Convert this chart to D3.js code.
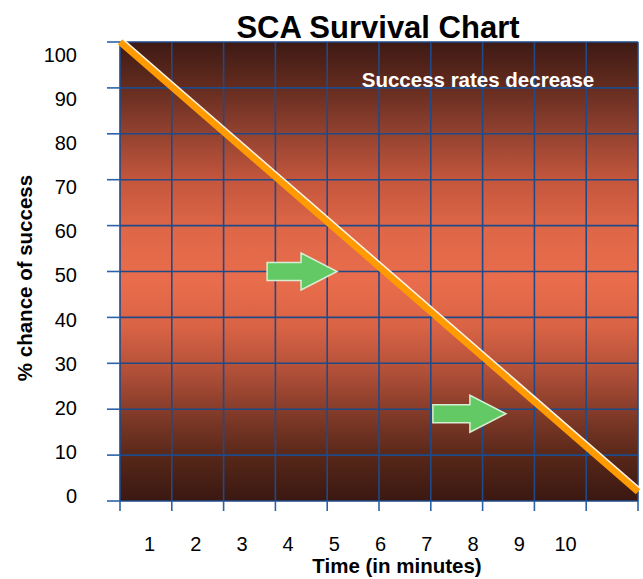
<!DOCTYPE html>
<meta charset="utf-8">
<style>

body {
  margin: 0;
  background: #fff;
}

text {
  font-family: "Liberation Sans", Arial, sans-serif;
  fill: #000;
}

.grid line {
  stroke: #1f4a8a;
  stroke-width: 1.6;
}

.tick-mark {
  stroke: #2c62a8;
  stroke-width: 1.6;
}

.title {
  font: bold 31px "Liberation Sans", Arial, sans-serif;
}

.axis-title {
  font: bold 20.5px "Liberation Sans", Arial, sans-serif;
}

.note {
  font: bold 20.5px "Liberation Sans", Arial, sans-serif;
  fill: #fff;
}

</style>
<svg width="643" height="579"></svg>
<script src="https://d3js.org/d3.v7.min.js"></script>
<script>

// grid positions (minutes) and the labels under the axis
var gridMinutes = [0, 1, 2, 3, 4, 5, 6, 7, 8, 9, 10];
var minuteLabels = [1, 2, 3, 4, 5, 6, 7, 8, 9, 10];
var percentTicks = [0, 10, 20, 30, 40, 50, 60, 70, 80, 90, 100];

// survival line
var lineTime = [0, 10];
var lineChance = [100, 2];

// green arrows (start minute, end minute, level)
var arrowStart = [2.84, 6.04];
var arrowEnd = [4.19, 7.45];
var arrowLevel = [50, 19];

var svg = d3.select("svg"),
    width = +svg.attr("width"),
    height = +svg.attr("height");

var x = d3.scaleLinear().domain([0, 10]).range([120, 638]),
    y = d3.scaleLinear().domain([0, 100]).range([501, 42]);

// the labels are not quite lined up with the grid in the picture
var xLabel = d3.scaleLinear().domain([1, 10]).range([149, 565]),
    yLabel = d3.scaleLinear().domain([0, 100]).range([496, 55]);

// background gradient, dark at top and bottom, light in the middle
var defs = svg.append("defs");
var grad = defs.append("linearGradient")
    .attr("id", "bg")
    .attr("x1", 0).attr("y1", 0)
    .attr("x2", 0).attr("y2", 1);

var stops = [
  [0, "#3d1a14"], [0.1, "#652c1f"], [0.2, "#934230"], [0.3, "#c3563c"],
  [0.4, "#dd6647"], [0.52, "#e96d4c"], [0.62, "#d96345"], [0.72, "#b04f38"],
  [0.82, "#7d3827"], [0.91, "#552618"], [1, "#3a1812"]
];
grad.selectAll("stop")
  .data(stops)
  .enter().append("stop")
    .attr("offset", function(d) { return d[0]; })
    .attr("stop-color", function(d) { return d[1]; });

svg.append("rect")
    .attr("x", x(0))
    .attr("y", y(100))
    .attr("width", x(10) - x(0))
    .attr("height", y(0) - y(100))
    .attr("fill", "url(#bg)");

// grid
var grid = svg.append("g").attr("class", "grid");

grid.selectAll(".v")
  .data(gridMinutes)
  .enter().append("line")
    .attr("class", "v")
    .attr("x1", function(d) { return x(d); })
    .attr("x2", function(d) { return x(d); })
    .attr("y1", y(100))
    .attr("y2", y(0));

grid.selectAll(".h")
  .data(percentTicks)
  .enter().append("line")
    .attr("class", "h")
    .attr("x1", x(0))
    .attr("x2", x(10))
    .attr("y1", function(d) { return y(d); })
    .attr("y2", function(d) { return y(d); });

// small tick marks outside the plot
svg.selectAll(".xtick")
  .data(gridMinutes)
  .enter().append("line")
    .attr("class", "tick-mark")
    .attr("x1", function(d) { return x(d); })
    .attr("x2", function(d) { return x(d); })
    .attr("y1", y(0))
    .attr("y2", y(0) + 10);

svg.selectAll(".ytick")
  .data(percentTicks)
  .enter().append("line")
    .attr("class", "tick-mark")
    .attr("x1", x(0) - 13)
    .attr("x2", x(0))
    .attr("y1", function(d) { return y(d); })
    .attr("y2", function(d) { return y(d); });

// tick labels
var yAxis = svg.append("g")
    .attr("class", "label-axis")
    .attr("transform", "translate(77,0)")
    .call(d3.axisLeft(yLabel).tickValues(percentTicks).tickSize(0).tickPadding(0));
yAxis.select(".domain").remove();

var xAxis = svg.append("g")
    .attr("class", "label-axis")
    .attr("transform", "translate(0,537)")
    .call(d3.axisBottom(xLabel).tickValues(minuteLabels).tickSize(0).tickPadding(0));
xAxis.select(".domain").remove();

svg.selectAll(".label-axis")
    .attr("font-family", "Liberation Sans, Arial, sans-serif")
    .attr("font-size", 20);
svg.selectAll(".label-axis text")
    .attr("fill", "#000");

// survival line with a light edge
var lineData = lineTime.map(function(t, i) { return [t, lineChance[i]]; });
var line = d3.line()
    .x(function(d) { return x(d[0]); })
    .y(function(d) { return y(d[1]); });

svg.append("path")
    .datum(lineData)
    .attr("d", line)
    .attr("transform", "translate(2,-2)")
    .attr("fill", "none")
    .attr("stroke", "#fff4e8")
    .attr("stroke-width", 4);

svg.append("path")
    .datum(lineData)
    .attr("d", line)
    .attr("fill", "none")
    .attr("stroke", "#ff9a00")
    .attr("stroke-width", 6.5);

// arrows
var arrows = arrowStart.map(function(s, i) {
  return {x0: x(s), x1: x(arrowEnd[i]), yc: y(arrowLevel[i])};
});

svg.selectAll(".arrow")
  .data(arrows)
  .enter().append("path")
    .attr("class", "arrow")
    .attr("d", function(d) {
      var body = 9, head = 18.5, hx = d.x1 - 36;
      return "M" + d.x0 + "," + (d.yc - body) +
        "L" + hx + "," + (d.yc - body) +
        "L" + hx + "," + (d.yc - head) +
        "L" + d.x1 + "," + d.yc +
        "L" + hx + "," + (d.yc + head) +
        "L" + hx + "," + (d.yc + body) +
        "L" + d.x0 + "," + (d.yc + body) + "Z";
    })
    .attr("fill", "#63c965")
    .attr("stroke", "#d8eed4")
    .attr("stroke-width", 1.5);

// texts
svg.append("text")
    .attr("class", "title")
    .attr("x", 378)
    .attr("y", 38)
    .attr("text-anchor", "middle")
    .text("SCA Survival Chart");

svg.append("text")
    .attr("class", "note")
    .attr("x", 478)
    .attr("y", 87)
    .attr("text-anchor", "middle")
    .text("Success rates decrease");

svg.append("text")
    .attr("class", "axis-title")
    .attr("x", 397)
    .attr("y", 573)
    .attr("text-anchor", "middle")
    .text("Time (in minutes)");

svg.append("text")
    .attr("class", "axis-title")
    .attr("transform", "translate(32,278) rotate(-90)")
    .attr("text-anchor", "middle")
    .text("% chance of success");

</script>
